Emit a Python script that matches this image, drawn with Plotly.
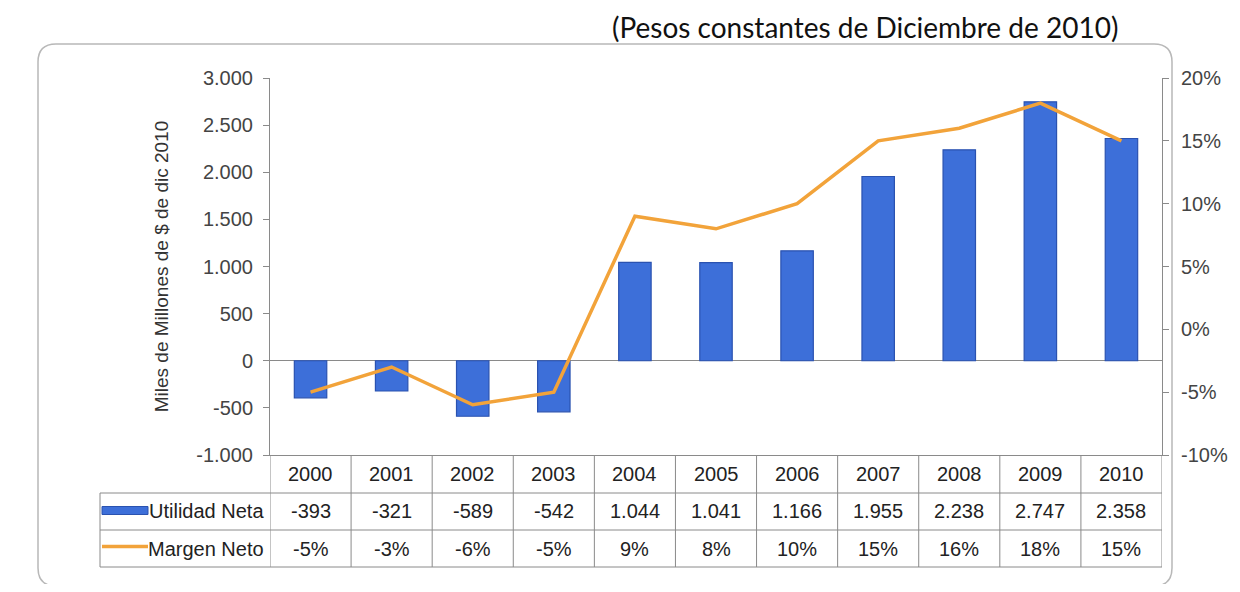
import plotly.graph_objects as go

years = ["2000", "2001", "2002", "2003", "2004", "2005", "2006", "2007", "2008", "2009", "2010"]
utilidad_neta = [-393, -321, -589, -542, 1044, 1041, 1166, 1955, 2238, 2747, 2358]
margen_neto = [-5, -3, -6, -5, 9, 8, 10, 15, 16, 18, 15]
left_ticks = [-1000, -500, 0, 500, 1000, 1500, 2000, 2500, 3000]
right_ticks = [-10, -5, 0, 5, 10, 15, 20]

title_text = "(Pesos constantes de Diciembre de 2010)"
y_title = "Miles de Millones de $ de dic 2010"
row_labels = ["Utilidad Neta", "Margen Neto"]

# page body has an 8px margin, so work in screen pixels and shift
OFF = 8
FW, FH = 1240 - 2 * OFF, 592 - 2 * OFF
L, R, T, B = 270, 1162, 78, 455

FONT = "Liberation Sans, Arial, sans-serif"
BLUE = "#3d6fd9"
ORANGE = "#f2a33a"
GRID = "#8a8a8a"


def px(x):
    return (x - L) / (R - L)


def py(y):
    return (B - y) / (B - T)


def fmt_num(v):
    return f"{v:,}".replace(",", ".")


fig = go.Figure()

fig.add_bar(
    x=years,
    y=utilidad_neta,
    width=0.4,
    marker=dict(color=BLUE, line=dict(color="#2a52b0", width=1.2)),
    name=row_labels[0],
    showlegend=False,
)
fig.add_scatter(
    x=years,
    y=margen_neto,
    yaxis="y2",
    mode="lines",
    line=dict(color=ORANGE, width=3.5),
    name=row_labels[1],
    showlegend=False,
)

shapes = []
annotations = []

# outer rounded frame
x0, x1, y0, y1, r = px(38), px(1172), py(44), py(586), 18
rx, ry = r / (R - L), r / (B - T)
path = (
    f"M {x0 + rx},{y0} L {x1 - rx},{y0} Q {x1},{y0} {x1},{y0 - ry} "
    f"L {x1},{y1 + ry} Q {x1},{y1} {x1 - rx},{y1} "
    f"L {x0 + rx},{y1} Q {x0},{y1} {x0},{y1 + ry} "
    f"L {x0},{y0 - ry} Q {x0},{y0} {x0 + rx},{y0} Z"
)
shapes.append(dict(type="path", xref="paper", yref="paper", path=path,
                   line=dict(color="#b8b8b8", width=1.5), layer="below"))

# data table grid
rows = [455, 493, 530, 567]
for yy in rows[1:]:
    shapes.append(dict(type="line", xref="paper", yref="paper",
                       x0=px(100), x1=1, y0=py(yy), y1=py(yy),
                       line=dict(color=GRID, width=1)))
shapes.append(dict(type="line", xref="paper", yref="paper",
                   x0=px(100), x1=px(100), y0=py(rows[1]), y1=py(rows[3]),
                   line=dict(color=GRID, width=1)))
for k in range(len(years) + 1):
    shapes.append(dict(type="line", xref="x", yref="paper",
                       x0=k - 0.5, x1=k - 0.5, y0=py(rows[0]), y1=py(rows[3]),
                       line=dict(color=GRID, width=1)))

row_mid = [(rows[i] + rows[i + 1]) / 2 for i in range(3)]

# legend keys inside table
shapes.append(dict(type="rect", xref="paper", yref="paper",
                   x0=px(102), x1=px(148), y0=py(row_mid[1] - 5), y1=py(row_mid[1] + 3),
                   fillcolor=BLUE, line=dict(color="#2a52b0", width=1)))
shapes.append(dict(type="line", xref="paper", yref="paper",
                   x0=px(102), x1=px(148), y0=py(row_mid[2] - 2), y1=py(row_mid[2] - 2),
                   line=dict(color=ORANGE, width=3.5)))

for label, yy in zip(row_labels, row_mid[1:]):
    annotations.append(dict(text=label, xref="paper", yref="paper", x=px(266), y=py(yy),
                            xanchor="right", yanchor="middle", showarrow=False,
                            font=dict(family=FONT, size=20, color="#222")))

for i, yr in enumerate(years):
    annotations.append(dict(text=yr, xref="x", yref="paper", x=i, y=py(row_mid[0]),
                            showarrow=False, yanchor="middle",
                            font=dict(family=FONT, size=20, color="#222")))
    annotations.append(dict(text=fmt_num(utilidad_neta[i]), xref="x", yref="paper", x=i,
                            y=py(row_mid[1]), showarrow=False, yanchor="middle",
                            font=dict(family=FONT, size=20, color="#222")))
    annotations.append(dict(text=f"{margen_neto[i]}%", xref="x", yref="paper", x=i,
                            y=py(row_mid[2]), showarrow=False, yanchor="middle",
                            font=dict(family=FONT, size=20, color="#222")))

# title (cut by the page edge in the scan; shown whole here)
annotations.append(dict(text=title_text, xref="paper", yref="paper", x=px(865), y=py(OFF),
                        xanchor="center", yanchor="top", showarrow=False,
                        font=dict(family="Lato, sans-serif", size=28, color="#111")))

fig.update_layout(
    width=FW,
    height=FH,
    margin=dict(l=L - OFF, r=FW - (R - OFF), t=T - OFF, b=FH - (B - OFF)),
    paper_bgcolor="white",
    plot_bgcolor="white",
    showlegend=False,
    xaxis=dict(
        type="category",
        range=[-0.5, len(years) - 0.5],
        showticklabels=False,
        showline=True,
        linecolor=GRID,
        linewidth=1,
        ticks="",
        showgrid=False,
        fixedrange=True,
    ),
    yaxis=dict(
        range=[left_ticks[0], left_ticks[-1]],
        tickvals=left_ticks,
        ticktext=[fmt_num(v) for v in left_ticks],
        tickfont=dict(family=FONT, size=20, color="#444"),
        showline=True,
        linecolor=GRID,
        linewidth=1,
        ticks="outside",
        ticklen=6,
        tickcolor=GRID,
        ticklabelstandoff=6,
        showgrid=False,
        zeroline=True,
        zerolinecolor=GRID,
        zerolinewidth=1,
        automargin=False,
        title=dict(text=y_title, font=dict(family=FONT, size=19, color="#333"), standoff=22),
    ),
    yaxis2=dict(
        overlaying="y",
        side="right",
        range=[right_ticks[0], right_ticks[-1]],
        tickvals=right_ticks,
        ticktext=[f"{v}%" for v in right_ticks],
        tickfont=dict(family=FONT, size=20, color="#444"),
        showline=True,
        linecolor=GRID,
        linewidth=1,
        ticks="outside",
        ticklen=6,
        tickcolor=GRID,
        ticklabelstandoff=8,
        showgrid=False,
        zeroline=False,
        automargin=False,
    ),
    shapes=shapes,
    annotations=annotations,
)

fig.write_html("out.html")
